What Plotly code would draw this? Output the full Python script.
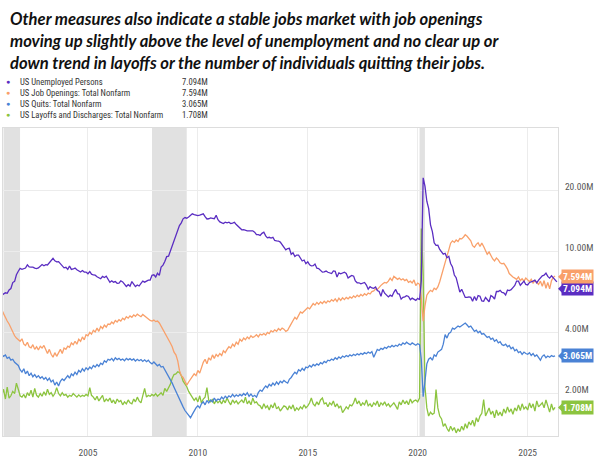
import numpy as np
import pandas as pd
import plotly.graph_objects as go

# ---------------- data (millions, monthly from Jan 2001) ----------------
start_month = "2001-01-01"

unemployed = [
    6.02, 6.09, 6.14, 6.27, 6.23, 6.48, 6.58, 7.04, 7.14, 7.69, 8.00, 8.26,
    8.18, 8.22, 8.30, 8.60, 8.40, 8.39, 8.39, 8.30, 8.25, 8.31, 8.52, 8.64,
    8.52, 8.62, 8.59, 8.84, 8.96, 9.27, 9.01, 8.90, 8.92, 8.73, 8.58, 8.32,
    8.37, 8.17, 8.49, 8.17, 8.21, 8.29, 8.14, 7.99, 7.93, 8.06, 7.93, 7.93,
    7.78, 7.98, 7.74, 7.67, 7.65, 7.52, 7.41, 7.35, 7.55, 7.45, 7.57, 7.28,
    7.06, 7.18, 7.07, 7.12, 6.98, 7.00, 7.18, 7.09, 6.85, 6.73, 6.87, 6.76,
    7.12, 6.93, 6.73, 6.85, 6.77, 6.98, 7.15, 7.07, 7.17, 7.24, 7.24, 7.65,
    7.69, 7.50, 7.82, 7.64, 8.40, 8.58, 8.94, 9.44, 9.49, 10.07, 10.54, 11.29,
    12.06, 12.90, 13.43, 13.85, 14.50, 14.71, 14.60, 14.81, 15.01, 15.35, 15.22, 15.10,
    15.05, 15.11, 15.20, 15.33, 14.85, 14.47, 14.51, 14.65, 14.58, 14.52, 15.08, 14.35,
    14.01, 13.82, 13.74, 13.96, 13.86, 13.96, 13.76, 13.82, 13.95, 13.59, 13.30, 13.09,
    12.80, 12.81, 12.71, 12.65, 12.66, 12.69, 12.66, 12.47, 12.12, 12.12, 12.01, 12.30,
    12.47, 11.95, 11.69, 11.76, 11.65, 11.75, 11.34, 11.28, 11.27, 11.14, 10.79, 10.40,
    10.20, 10.35, 10.38, 9.70, 9.86, 9.46, 9.61, 9.60, 9.26, 8.99, 9.09, 8.72,
    8.90, 8.61, 8.50, 8.53, 8.69, 8.28, 8.25, 8.05, 7.92, 7.95, 8.02, 7.91,
    7.82, 7.80, 8.03, 7.99, 7.50, 7.86, 7.77, 7.81, 7.92, 7.81, 7.42, 7.53,
    7.63, 7.57, 7.17, 7.02, 7.02, 6.94, 6.98, 7.05, 6.84, 6.53, 6.72, 6.62,
    6.59, 6.70, 6.43, 6.36, 6.03, 6.51, 6.24, 6.13, 5.98, 6.10, 6.02, 6.30,
    6.51, 6.21, 6.18, 5.83, 5.95, 5.99, 6.07, 6.01, 5.80, 5.90, 5.81, 5.75,
    5.89, 5.79, 7.19, 23.09, 20.99, 17.70, 16.31, 13.54, 12.54, 11.05, 10.73, 10.74,
    10.24, 9.97, 9.72, 9.81, 9.33, 9.48, 8.74, 8.41, 7.67, 7.44, 6.85, 6.31,
    6.52, 6.27, 5.95, 5.95, 5.98, 5.95, 5.70, 6.01, 5.75, 6.07, 6.03, 5.72,
    5.69, 5.94, 5.82, 5.66, 6.08, 5.99, 5.84, 6.36, 6.36, 6.44, 6.29, 6.27,
    6.12, 6.46, 6.43, 6.49, 6.65, 6.81, 7.16, 7.15, 6.83, 6.98, 7.15, 6.89,
    6.85, 7.05, 7.08, 7.16, 7.24, 7.02, 7.24, 7.38, 7.60, 7.65, 7.83, 7.55,
    7.40, 7.60, 7.45, 7.30, 7.094,
]

job_openings = [
    5.30, 5.17, 4.95, 4.70, 4.55, 4.40, 4.20, 4.05, 3.85, 3.75, 3.70, 3.62,
    3.72, 3.50, 3.45, 3.58, 3.40, 3.36, 3.48, 3.30, 3.40, 3.28, 3.42, 3.35,
    3.45, 3.25, 3.15, 3.30, 3.12, 3.02, 3.18, 3.05, 3.20, 3.30, 3.15, 3.35,
    3.30, 3.42, 3.38, 3.55, 3.48, 3.62, 3.50, 3.70, 3.62, 3.80, 3.68, 3.90,
    3.85, 4.00, 3.92, 4.10, 4.02, 4.20, 4.05, 4.28, 4.18, 4.35, 4.25, 4.40,
    4.38, 4.50, 4.42, 4.58, 4.50, 4.62, 4.55, 4.70, 4.62, 4.78, 4.70, 4.82,
    4.75, 4.88, 4.80, 4.92, 4.85, 4.78, 4.90, 4.82, 4.70, 4.62, 4.58, 4.55,
    4.60, 4.52, 4.55, 4.45, 4.30, 4.10, 3.95, 3.85, 3.70, 3.55, 3.40, 3.20,
    3.10, 2.90, 2.60, 2.45, 2.40, 2.30, 2.20, 2.28, 2.35, 2.40, 2.50, 2.45,
    2.60, 2.52, 2.70, 2.85, 2.95, 2.80, 3.00, 2.92, 3.10, 2.98, 3.12, 3.05,
    3.15, 3.08, 3.25, 3.18, 3.30, 3.40, 3.35, 3.50, 3.42, 3.58, 3.50, 3.70,
    3.62, 3.75, 3.68, 3.80, 3.72, 3.85, 3.78, 3.82, 3.90, 3.80, 3.92, 3.88,
    3.95, 3.88, 4.00, 3.95, 4.08, 4.02, 4.12, 4.05, 4.18, 4.10, 4.20, 4.15,
    4.05, 4.10, 4.25, 4.40, 4.55, 4.75, 4.65, 4.90, 5.05, 4.98, 5.10, 5.20,
    5.30, 5.22, 5.40, 5.55, 5.45, 5.62, 5.50, 5.65, 5.55, 5.70, 5.58, 5.72,
    5.65, 5.80, 5.70, 5.85, 5.68, 5.90, 5.75, 5.92, 5.80, 5.95, 5.85, 5.98,
    5.90, 6.05, 5.95, 6.10, 6.00, 6.15, 6.05, 6.20, 6.10, 6.25, 6.18, 6.35,
    6.40, 6.55, 6.50, 6.70, 6.82, 6.95, 7.05, 7.00, 7.15, 7.40, 7.20, 7.55,
    7.45, 7.30, 7.40, 7.25, 7.35, 7.20, 7.30, 7.05, 7.15, 7.00, 7.25, 6.80,
    7.00, 6.90, 5.90, 4.54, 5.40, 6.10, 6.30, 6.45, 6.35, 6.60, 6.50, 6.70,
    7.10, 7.60, 8.30, 8.90, 9.50, 10.20, 11.00, 11.30, 11.10, 11.40, 11.20, 11.60,
    11.55, 11.80, 12.10, 11.90, 11.60, 11.30, 10.70, 10.50, 10.85, 11.05, 10.60, 11.00,
    10.60, 10.00, 9.70, 9.95, 9.50, 9.20, 9.00, 9.30, 9.10, 8.80, 8.70, 8.75,
    8.50, 8.20, 7.80, 7.60, 7.50, 7.40, 7.30, 7.50, 7.20, 7.35, 7.15, 7.40,
    7.25, 7.10, 7.30, 7.00, 7.20, 7.05, 6.90, 7.15, 6.75, 7.20, 6.60, 7.05,
    6.55, 7.20, 7.45, 7.594,
]

quits = [
    3.15, 3.12, 3.05, 3.10, 2.98, 3.02, 2.92, 2.95, 2.85, 2.80, 2.75, 2.62,
    2.55, 2.65, 2.50, 2.58, 2.45, 2.52, 2.42, 2.48, 2.40, 2.45, 2.38, 2.42,
    2.35, 2.40, 2.32, 2.38, 2.28, 2.33, 2.20, 2.28, 2.18, 2.30, 2.36, 2.32,
    2.40, 2.45, 2.38, 2.50, 2.45, 2.55, 2.48, 2.60, 2.55, 2.65, 2.58, 2.68,
    2.62, 2.70, 2.65, 2.75, 2.70, 2.78, 2.72, 2.82, 2.78, 2.90, 2.85, 2.95,
    2.92, 2.98, 2.90, 3.00, 2.94, 2.98, 2.92, 2.96, 2.90, 2.98, 2.93, 2.97,
    2.92, 2.96, 2.89, 2.95, 2.90, 2.94, 2.88, 2.93, 2.87, 2.92, 2.84, 2.80,
    2.86, 2.80, 2.74, 2.78, 2.70, 2.72, 2.62, 2.55, 2.45, 2.35, 2.25, 2.15,
    2.05, 1.95, 1.85, 1.78, 1.72, 1.65, 1.60, 1.55, 1.52, 1.58, 1.65, 1.70,
    1.74, 1.70, 1.78, 1.82, 1.76, 1.85, 1.80, 1.86, 1.82, 1.90, 1.84, 1.88,
    1.86, 1.92, 1.88, 1.94, 1.90, 1.95, 1.92, 1.98, 1.93, 1.97, 1.94, 1.98,
    1.95, 2.00, 1.96, 2.02, 1.94, 1.99, 1.93, 1.96, 1.92, 2.02, 2.08, 2.05,
    2.12, 2.18, 2.14, 2.22, 2.18, 2.25, 2.20, 2.28, 2.22, 2.30, 2.26, 2.32,
    2.28, 2.25, 2.35, 2.40, 2.48, 2.55, 2.50, 2.62, 2.58, 2.66, 2.60, 2.70,
    2.68, 2.75, 2.70, 2.78, 2.74, 2.80, 2.76, 2.84, 2.80, 2.88, 2.84, 2.92,
    2.90, 2.96, 2.92, 3.00, 2.95, 3.03, 2.98, 3.06, 3.02, 3.08, 3.04, 3.10,
    3.06, 3.12, 3.08, 3.14, 3.10, 3.16, 3.12, 3.18, 3.14, 3.20, 3.16, 3.22,
    3.02, 3.20, 3.30, 3.26, 3.34, 3.30, 3.38, 3.34, 3.42, 3.38, 3.45, 3.40,
    3.46, 3.42, 3.50, 3.46, 3.55, 3.50, 3.58, 3.52, 3.48, 3.55, 3.50, 3.46,
    3.52, 3.48, 2.95, 1.93, 2.30, 2.80, 2.95, 3.00, 2.92, 3.10, 3.05, 3.20,
    3.25, 3.30, 3.50, 3.90, 3.75, 3.95, 4.00, 4.20, 4.15, 4.22, 4.30, 4.25,
    4.32, 4.38, 4.45, 4.35, 4.25, 4.30, 4.15, 4.05, 4.10, 3.98, 4.05, 3.92,
    3.95, 3.85, 3.78, 3.82, 3.70, 3.75, 3.62, 3.68, 3.55, 3.60, 3.48, 3.45,
    3.50, 3.40, 3.45, 3.32, 3.38, 3.25, 3.30, 3.18, 3.22, 3.12, 3.20, 3.15,
    3.12, 3.18, 3.08, 3.15, 3.05, 3.10, 3.00, 2.92, 3.05, 3.10, 3.00, 3.06,
    3.02, 3.08, 3.04, 3.065,
]

layoffs = [
    2.05, 1.97, 2.10, 1.88, 2.15, 1.90, 1.95, 2.05, 2.00, 2.25, 2.10, 1.95,
    1.92, 1.98, 1.90, 2.02, 1.95, 2.08, 1.92, 2.12, 1.96, 1.92, 2.00, 1.94,
    2.04, 1.96, 2.10, 1.98, 2.02, 1.94, 2.00, 2.14, 2.00, 1.95, 2.02, 1.96,
    1.98, 1.92, 1.96, 1.94, 2.00, 1.95, 1.92, 1.97, 1.93, 1.96, 1.94, 1.98,
    1.95, 2.14, 1.96, 1.92, 1.86, 1.94, 1.84, 1.90, 1.96, 1.82, 1.88, 1.84,
    1.90, 1.80, 1.86, 1.78, 1.88, 1.82, 1.85, 1.76, 1.82, 1.78, 1.86, 1.80,
    1.78, 1.88, 1.82, 1.92, 1.84, 1.80, 1.96, 2.12, 1.92, 1.96, 1.94, 1.98,
    1.95, 2.00, 1.94, 1.98, 2.02, 1.96, 2.12, 2.05, 2.15, 2.22, 2.38, 2.48,
    2.50, 2.56, 2.54, 2.45, 2.30, 2.22, 2.16, 2.05, 1.98, 1.92, 1.85, 1.90,
    1.82, 1.95, 1.80, 1.88, 1.92, 2.14, 1.85, 1.82, 1.88, 1.78, 1.85, 1.80,
    1.84, 1.78, 1.86, 1.80, 1.90, 1.82, 1.76, 1.86, 1.80, 1.84, 1.78, 1.82,
    1.86, 1.80, 1.92, 1.78, 1.84, 1.76, 1.90, 1.80, 1.82, 1.76, 1.74, 1.68,
    1.78, 1.70, 1.74, 1.66, 1.76, 1.70, 1.80, 1.68, 1.72, 1.64, 1.70, 1.74,
    1.72, 1.66, 1.74, 1.68, 1.76, 1.64, 1.70, 1.66, 1.72, 1.68, 1.76, 1.70,
    1.74, 1.80, 1.90, 1.78, 1.74, 1.82, 1.76, 1.86, 1.90, 1.78, 1.80, 1.72,
    1.80, 1.76, 1.84, 1.72, 1.78, 1.70, 1.74, 1.61, 1.66, 1.72, 1.68, 1.76,
    1.74, 1.80, 1.90, 1.78, 1.84, 1.74, 1.80, 1.76, 1.86, 1.74, 1.78, 1.72,
    1.80, 1.76, 1.84, 1.72, 1.80, 1.76, 1.82, 1.74, 1.78, 1.72, 1.76, 1.80,
    1.74, 1.67, 1.82, 1.76, 1.86, 1.78, 1.84, 1.76, 1.88, 1.80, 1.84, 1.86,
    1.82, 1.90, 13.0, 7.70, 2.16, 1.70, 1.55, 1.62, 1.58, 1.60, 2.09, 1.70,
    1.55, 1.50, 1.38, 1.42, 1.35, 1.30, 1.38, 1.32, 1.36, 1.28, 1.34, 1.30,
    1.38, 1.32, 1.42, 1.35, 1.45, 1.40, 1.48, 1.38, 1.52, 1.45, 1.55, 1.60,
    1.87, 1.55, 1.62, 1.70, 1.58, 1.64, 1.52, 1.66, 1.56, 1.62, 1.55, 1.68,
    1.60, 1.72, 1.62, 1.68, 1.58, 1.70, 1.64, 1.76, 1.65, 1.78, 1.68, 1.72,
    1.66, 1.80, 1.70, 1.78, 1.64, 1.84, 1.72, 1.76, 1.80, 1.70, 1.86, 1.74,
    1.62, 1.78, 1.66, 1.708,
]

series_names = [
    "US Unemployed Persons",
    "US Job Openings: Total Nonfarm",
    "US Quits: Total Nonfarm",
    "US Layoffs and Discharges: Total Nonfarm",
]
series_values = [unemployed, job_openings, quits, layoffs]
series_colors = ["#5a2dc2", "#f9a06a", "#4a82d5", "#8cc43f"]

recessions = [
    ("2001-03-01", "2001-11-30"),
    ("2007-12-01", "2009-06-30"),
    ("2020-02-01", "2020-04-30"),
]

tick_years = [2005, 2010, 2015, 2020, 2025]
y_tick_vals = [2, 4, 10, 20]
y_tick_text = ["2.00M", "4.00M", "10.00M", "20.00M"]

title_lines = [
    "Other measures also indicate a stable jobs market with job openings",
    "moving up slightly above the level of unemployment and no clear up or",
    "down trend in layoffs or the number of individuals quitting their jobs.",
]

# ---------------- figure ----------------
NARROW = "Liberation Sans Narrow, Roboto Condensed, Roboto, sans-serif"

fig = go.Figure()
draw_order = [3, 2, 1, 0]
for i in draw_order:
    vals = series_values[i]
    dates = pd.date_range(start_month, periods=len(vals), freq="MS")
    fig.add_trace(go.Scatter(
        x=dates, y=vals, mode="lines", name=series_names[i],
        line=dict(color=series_colors[i], width=1.3),
        hoverinfo="skip",
    ))

for x0, x1 in recessions:
    fig.add_shape(type="rect", xref="x", yref="paper", x0=x0, x1=x1, y0=0, y1=1,
                  fillcolor="#e1e1e1", line=dict(width=0), layer="below")

# plot area pixels: top 128, bottom 442 -> 314 px tall
PLOT_TOP, PLOT_H = 128, 314

def py(pix):
    return (PLOT_TOP + PLOT_H - pix) / PLOT_H

annotations = []
for k, line in enumerate(title_lines):
    annotations.append(dict(
        text=f"<b><i>{line}</i></b>", xref="paper", yref="paper",
        x=0, xshift=5, xanchor="left", y=py(16.5 + 22.7 * k), yanchor="middle",
        showarrow=False, font=dict(family="Lato, sans-serif", size=16.6, color="#111"),
    ))

for k, (name, vals, col) in enumerate(zip(series_names, series_values, series_colors)):
    yy = py(81 + 11.2 * k)
    annotations.append(dict(text="●", xref="paper", yref="paper", x=0, xshift=5,
                            xanchor="center", y=yy, yanchor="middle", showarrow=False,
                            font=dict(size=7, color=col)))
    annotations.append(dict(text=name, xref="paper", yref="paper", x=0, xshift=15,
                            xanchor="left", y=yy, yanchor="middle", showarrow=False,
                            font=dict(family=NARROW, size=8.6, color="#333")))
    annotations.append(dict(text=f"{vals[-1]:.3f}M", xref="paper", yref="paper", x=0,
                            xshift=177, xanchor="left", y=yy, yanchor="middle",
                            showarrow=False, font=dict(family=NARROW, size=8.6, color="#333")))

end_shift = [-7, -1, 0, 0]
for k, (vals, col) in enumerate(zip(series_values, series_colors)):
    v = vals[-1]
    annotations.append(dict(
        text=f"<b>{v:.3f}M</b>", xref="paper", yref="y", x=1, y=np.log10(v),
        yshift=end_shift[k], showarrow=True, ax=19, ay=0, arrowhead=1,
        arrowsize=1.1, arrowwidth=1.5, arrowcolor=col, standoff=0,
        bgcolor=col, borderpad=1, font=dict(family=NARROW, size=9.5, color="white"),
    ))

fig.update_layout(
    width=600, height=460,
    margin=dict(l=2, r=42, t=PLOT_TOP, b=460 - PLOT_TOP - PLOT_H),
    paper_bgcolor="white", plot_bgcolor="white",
    showlegend=False,
    annotations=annotations,
    xaxis=dict(
        type="date", range=["2001-02-20", "2026-05-20"],
        tickvals=[f"{y}-01-01" for y in tick_years], ticktext=[str(y) for y in tick_years],
        showgrid=True, gridcolor="#ececec", gridwidth=1,
        showline=True, linecolor="#dddddd", mirror=True, zeroline=False, ticks="",
        tickfont=dict(family=NARROW, size=9.5, color="#555"), ticklabelstandoff=8,
    ),
    yaxis=dict(
        type="log", side="right", range=[np.log10(1.236), np.log10(40.6)],
        tickvals=y_tick_vals, ticktext=y_tick_text,
        showgrid=True, gridcolor="#ececec", gridwidth=1,
        showline=True, linecolor="#dddddd", mirror=True, zeroline=False, ticks="",
        tickfont=dict(family=NARROW, size=9.5, color="#555"),
        ticklabelstandoff=4, ticklabelshift=-4,
    ),
)

fig.write_html("out.html")
